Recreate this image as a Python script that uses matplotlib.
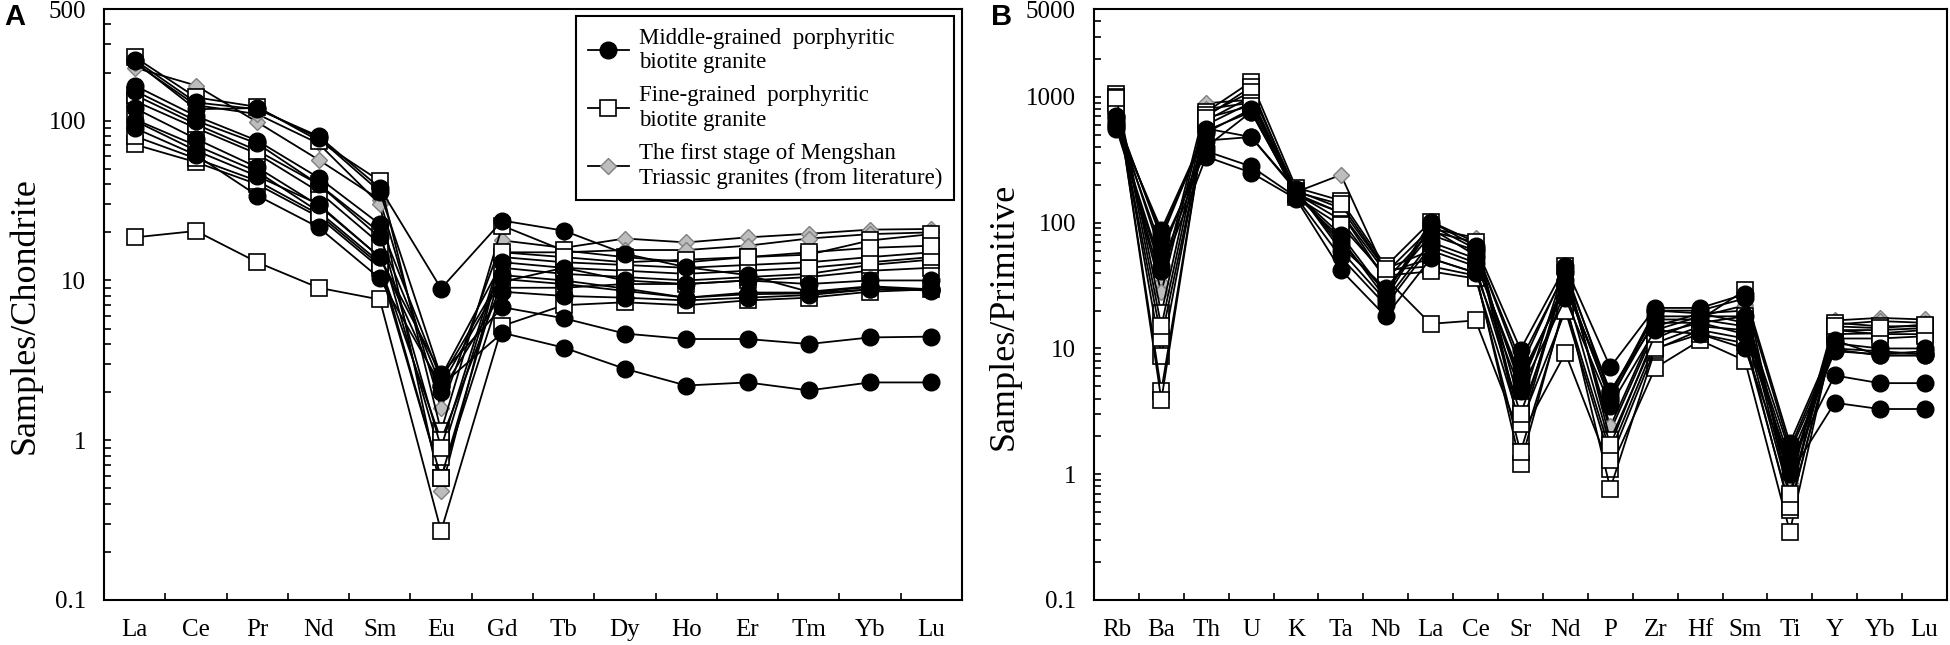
import numpy as np
import matplotlib
matplotlib.use('Agg')
import matplotlib.pyplot as plt
from matplotlib.lines import Line2D
from matplotlib.ticker import LogLocator, NullFormatter, FixedLocator

plt.rcParams.update({
    'font.family': 'Liberation Serif',
    'font.size': 18,
    'axes.linewidth': 1.5,
})

GRAY = '#bdbdbd'

# ---------------------------- chondrite-normalised REE (panel A) -------------
ree = ['La', 'Ce', 'Pr', 'Nd', 'Sm', 'Eu', 'Gd', 'Tb', 'Dy', 'Ho', 'Er', 'Tm', 'Yb', 'Lu']

ree_middle = [
    [240, 130, 118, 80, 38, 8.9, 23.7, 20.5, 14.7, 12.1, 10.8, 8.5, 9.2, 8.8],
    [90, 61, 34, 21.5, 10.3, 2.2, 4.7, 3.8, 2.8, 2.2, 2.3, 2.05, 2.3, 2.3],
    [120, 77, 51, 29.5, 14, 2.6, 6.8, 5.8, 4.65, 4.3, 4.3, 4.0, 4.4, 4.45],
    [166, 107, 75, 44, 22.5, 2.4, 10.8, 10.0, 8.9, 7.8, 8.4, 8.4, 9.1, 8.6],
    [154, 100, 72, 40, 18.6, 2.2, 10.2, 9.5, 8.6, 7.8, 8.2, 8.3, 8.8, 8.7],
    [235, 118, 120, 78, 36, 2.5, 13, 12, 10, 9.5, 10, 9.5, 10, 10],
    [100, 65, 45, 30, 14, 2.0, 8.5, 8.0, 7.8, 7.5, 7.8, 8.1, 8.8, 8.8],
]
ree_fine = [
    [250, 140, 122, 75, 42, 1.14, 22, 15.4, 14, 13, 14, 14.5, 17.8, 19.5],
    [18.6, 20.4, 13, 9, 7.6, 0.27, 5.2, 7.0, 7.3, 7.0, 7.5, 7.8, 8.5, 8.8],
    [71, 55, 40, 25, 12, 0.58, 9, 9, 9.5, 9.5, 10, 10.5, 11.5, 12],
    [133, 90, 62, 36, 17, 0.78, 14, 13, 12.5, 12, 12.5, 13, 14, 15],
    [102, 70, 48, 27, 13, 0.58, 12, 11, 10.5, 10, 10.5, 11, 12.5, 13.5],
    [80, 58, 42, 26, 12.5, 1.0, 9.8, 12, 11.5, 11, 11.5, 12, 13, 14],
    [145, 95, 65, 40, 20, 0.9, 15, 14, 13, 13.5, 14, 15, 16, 16.5],
]
ree_lit = [
    [215, 166, 98, 57, 32, 1.58, 17.8, 16, 18.3, 17.3, 18.6, 19.6, 20.8, 21],
    [230, 125, 110, 72, 30, 0.48, 15, 15, 15.5, 15.5, 16.5, 18.3, 19.5, 20],
]

# ---------------------------- primitive-mantle spider (panel B) --------------
spider = ['Rb', 'Ba', 'Th', 'U', 'K', 'Ta', 'Nb', 'La', 'Ce', 'Sr', 'Nd', 'P',
          'Zr', 'Hf', 'Sm', 'Ti', 'Y', 'Yb', 'Lu']

spider_middle = [
    [600, 88, 540, 760, 170, 80, 27, 102, 65, 9.8, 45, 7.1, 21, 21, 27, 1.77, 11.6, 8.8, 8.8],
    [560, 41, 335, 250, 155, 42, 18, 52, 40, 4.6, 25, 3.5, 14, 13, 10, 1.0, 3.7, 3.3, 3.3],
    [620, 63, 370, 280, 160, 53, 22, 65, 48, 6.0, 30, 4.6, 16, 16, 13, 1.2, 6.1, 5.3, 5.3],
    [700, 75, 560, 480, 180, 65, 30, 80, 60, 8.0, 40, 4.5, 18, 18, 18, 1.5, 9.8, 8.8, 8.8],
    [580, 45, 400, 760, 175, 70, 28, 90, 55, 5.0, 35, 3.8, 20, 19, 16, 1.3, 9.5, 9.0, 9.5],
    [650, 82, 520, 800, 165, 75, 25, 95, 62, 7.0, 42, 4.2, 20, 20, 25, 1.6, 11, 10, 10],
    [690, 55, 450, 480, 185, 60, 24, 70, 52, 5.5, 32, 4.0, 17, 17, 15, 1.1, 10, 9.5, 9.0],
]
spider_fine = [
    [1050, 19, 760, 1320, 190, 150, 45, 102, 70, 3.4, 45, 1.87, 12, 17, 29, 0.66, 16, 15, 15],
    [900, 8.7, 650, 1000, 170, 105, 36, 15.7, 16.7, 2.0, 9.2, 1.1, 7.0, 11.6, 8.0, 0.35, 14, 13, 13],
    [950, 4.6, 700, 1200, 165, 120, 40, 52, 40, 1.2, 24, 0.77, 9.8, 14, 12, 0.52, 13, 13.2, 14],
    [1000, 3.9, 720, 1100, 180, 130, 42, 45, 38, 1.5, 22, 1.5, 11, 15, 14, 0.66, 14, 14, 14.5],
    [850, 12, 600, 900, 160, 95, 38, 41, 36, 2.5, 20, 1.3, 10, 13, 11, 0.55, 12, 12, 12.5],
    [980, 15, 680, 850, 175, 140, 43, 60, 45, 3.0, 30, 1.7, 13, 16, 18, 0.7, 15, 14.5, 15.5],
]
spider_lit = [
    [650, 33, 890, 950, 175, 240, 40, 90, 76, 2.5, 40, 2.2, 14, 18, 22, 0.9, 16.7, 17.5, 17],
    [700, 28, 800, 900, 170, 120, 35, 85, 70, 2.2, 38, 2.4, 15, 19, 20, 0.85, 15.5, 16.5, 16],
]

legend_labels = [
    'Middle-grained  porphyritic\nbiotite granite',
    'Fine-grained  porphyritic\nbiotite granite',
    'The first stage of Mengshan\nTriassic granites (from literature)',
]

STYLE_MID = dict(marker='o', ms=12, mfc='black', mec='black', mew=1.0)
STYLE_FINE = dict(marker='s', ms=12, mfc='white', mec='black', mew=1.2)
STYLE_LIT = dict(marker='D', ms=8.5, mfc=GRAY, mec='#808080', mew=1.0)


def draw_panel(ax, names, lit, fine, middle, ymax, yticks):
    x = np.arange(len(names))
    for s in lit:
        ax.plot(x, s, color='black', lw=1.3, **STYLE_LIT)
    for s in fine:
        ax.plot(x, s, color='black', lw=1.3, **STYLE_FINE)
    for s in middle:
        ax.plot(x, s, color='black', lw=1.3, **STYLE_MID)

    ax.set_yscale('log')
    ax.set_ylim(0.1, ymax)
    ax.set_xlim(-0.5, len(names) - 0.5)

    ax.set_xticks(x)
    ax.set_xticklabels(names)
    ax.xaxis.set_minor_locator(FixedLocator(np.arange(0.5, len(names) - 1, 1)))
    ax.tick_params(axis='x', which='major', length=0, pad=14, labelsize=18)
    ax.tick_params(axis='x', which='minor', direction='in', length=5, width=1.2)

    ax.yaxis.set_major_locator(FixedLocator(yticks))
    ax.set_yticklabels([('%g' % v) for v in yticks])
    ax.yaxis.set_minor_locator(LogLocator(base=10, subs=np.arange(2, 10)))
    ax.yaxis.set_minor_formatter(NullFormatter())
    ax.tick_params(axis='y', which='both', direction='in', length=5, width=1.2,
                   pad=13, labelsize=18)


fig = plt.figure(figsize=(19.5, 6.45), dpi=100)
axA = fig.add_axes([104 / 1950, 45 / 645, 858 / 1950, 591 / 645])
axB = fig.add_axes([1094 / 1950, 45 / 645, 853 / 1950, 591 / 645])

draw_panel(axA, ree, ree_lit, ree_fine, ree_middle, 500, [0.1, 1, 10, 100, 500])
draw_panel(axB, spider, spider_lit, spider_fine, spider_middle, 5000,
           [0.1, 1, 10, 100, 1000, 5000])

fig.text(25 / 1950, 1 - 316 / 645, 'Samples/Chondrite', rotation=90, ha='center', va='center', fontsize=26)
fig.text(1004 / 1950, 1 - 316 / 645, 'Samples/Primitive', rotation=90, ha='center', va='center', fontsize=26)

fig.text(4 / 1950, 1 - 3 / 645, 'A', family='Liberation Sans', weight='bold', fontsize=21, ha='left', va='top')
fig.text(991 / 1950, 1 - 3 / 645, 'B', family='Liberation Sans', weight='bold', fontsize=21, ha='left', va='top')

handles = [
    Line2D([], [], color='black', lw=1.3, **STYLE_MID),
    Line2D([], [], color='black', lw=1.3, **STYLE_FINE),
    Line2D([], [], color='black', lw=1.3, **STYLE_LIT),
]
leg = axA.legend(handles, legend_labels, loc='upper right', bbox_to_anchor=(0.9907, 0.988),
                 borderaxespad=0, fontsize=16.5, frameon=True, fancybox=False, framealpha=1,
                 edgecolor='black', handlelength=1.8, handletextpad=0.45, labelspacing=0.55,
                 borderpad=0.5)
leg.get_frame().set_linewidth(1.5)

fig.savefig('out.png', dpi=100)
